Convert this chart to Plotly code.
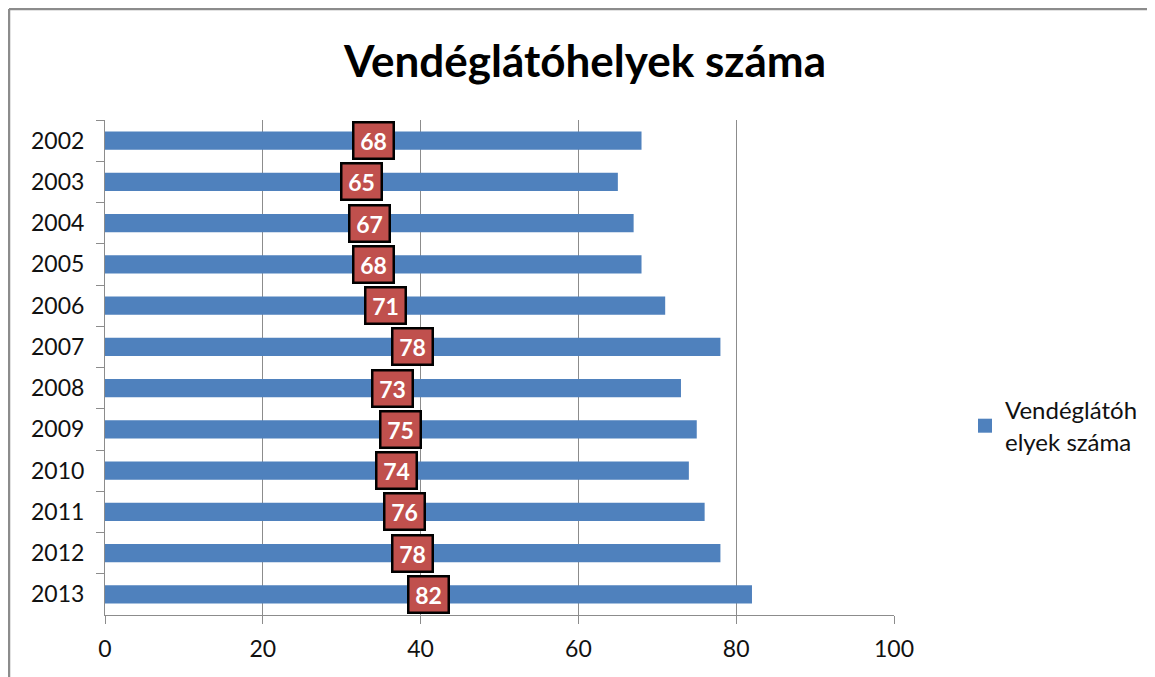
import plotly.graph_objects as go

years = ["2002", "2003", "2004", "2005", "2006", "2007", "2008", "2009", "2010", "2011", "2012", "2013"]
values = [68, 65, 67, 68, 71, 78, 73, 75, 74, 76, 78, 82]
x_ticks = [0, 20, 40, 60, 80, 100]
series_name = "Vendéglátóh<br>elyek száma"
title_text = "Vendéglátóhelyek száma"

FONT = "Lato"
OFF = 8  # browser body margin offset
W, H = 1155, 677
L, T = 105 - OFF, 120 - OFF
R = W - (894 - OFF)
B = H - (615 - OFF)
pw, ph = W - L - R, H - T - B

fig = go.Figure()
fig.add_trace(go.Bar(
    y=years, x=values, orientation="h", name=series_name,
    marker=dict(color="#4F81BD", line=dict(width=0)),
    width=0.44, showlegend=False,
))
fig.add_trace(go.Scatter(
    y=[years[0]], x=[None], mode="markers", name=series_name,
    marker=dict(symbol="square", size=14, color="#4F81BD"), showlegend=True,
))

for i, v in enumerate(values):
    fig.add_annotation(
        x=v / 2, y=i, xref="x", yref="y", text=f"<b>{v}</b>", showarrow=False,
        font=dict(family=FONT, size=23, color="white"),
        bgcolor="#C0504D", bordercolor="black", borderwidth=2.5, borderpad=5,
        width=28, height=24,
    )

def px_x(p):
    return (p - OFF - L) / pw

def px_y(p):
    return (H - B - (p - OFF)) / ph

# outer chart border (top and left edges visible)
fig.add_shape(type="line", xref="paper", yref="paper",
              x0=px_x(9), x1=px_x(1200), y0=px_y(9), y1=px_y(9),
              line=dict(color="#8C8C8C", width=2.5), layer="below")
fig.add_shape(type="line", xref="paper", yref="paper",
              x0=px_x(9), x1=px_x(9), y0=px_y(9), y1=px_y(720),
              line=dict(color="#8C8C8C", width=2.5), layer="below")

fig.update_layout(
    width=W, height=H,
    margin=dict(l=L, r=R, t=T, b=B, autoexpand=False),
    paper_bgcolor="white", plot_bgcolor="white",
    title=dict(text=f"<b>{title_text}</b>", x=(585 - OFF) / W, xref="container", xanchor="center",
               y=1 - (62 - OFF) / H, yref="container", yanchor="middle",
               font=dict(family=FONT, size=44, color="black")),
    font=dict(family=FONT, size=22, color="black"),
    legend=dict(x=px_x(965), y=px_y(426), xanchor="left", yanchor="middle",
                font=dict(family=FONT, size=24, color="#111"),
                bgcolor="rgba(0,0,0,0)", itemwidth=30),
    bargap=0.56,
)
fig.update_xaxes(range=[0, 100], tickvals=x_ticks, showgrid=True, gridcolor="#8C8C8C",
                 gridwidth=1, showline=True, linecolor="#8C8C8C", linewidth=1,
                 ticks="outside", ticklen=8, tickcolor="#8C8C8C", zeroline=False,
                 ticklabelstandoff=5, automargin=False,
                 tickfont=dict(family=FONT, size=23, color="#111"), fixedrange=True)
fig.update_yaxes(type="category", categoryorder="array", categoryarray=years,
                 range=[len(years) - 0.5, -0.5], showline=True, linecolor="#8C8C8C", linewidth=1,
                 ticks="outside", ticklen=8, tickcolor="#8C8C8C", tickson="boundaries",
                 ticklabelstandoff=15, automargin=False,
                 tickfont=dict(family=FONT, size=23, color="#111"), showgrid=False)

fig.write_html("out.html")
